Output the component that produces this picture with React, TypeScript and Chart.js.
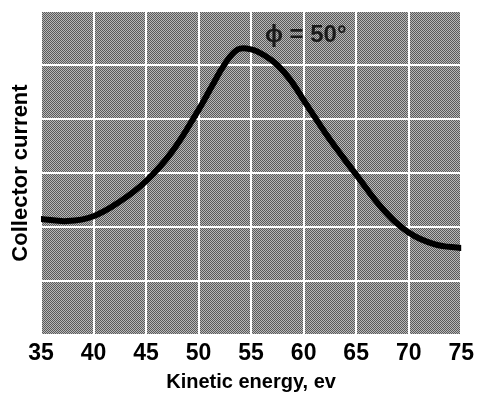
import React, { useEffect, useRef } from "react";
import { Chart, registerables } from "chart.js";

Chart.register(...registerables);

const energies = [35, 37.5, 40, 42.5, 45, 47.5, 50, 51.25, 52.5, 53.75, 55, 56.25, 57.5, 58.75, 60, 61.25, 62.5, 63.75, 65, 67.5, 70, 72.5, 75];
const current = [2.15, 2.11, 2.2, 2.47, 2.85, 3.4, 4.17, 4.6, 5.02, 5.29, 5.29, 5.18, 5.0, 4.72, 4.35, 3.98, 3.62, 3.29, 2.97, 2.34, 1.9, 1.68, 1.61];
const xTicks = [35, 40, 45, 50, 55, 60, 65, 70, 75];
const annotationText = "\u03D5 = 50\u00B0";
const annotationPos = { x: 60.2, y: 5.55 };

export default function App() {
  const ref = useRef<HTMLCanvasElement | null>(null);

  useEffect(() => {
    const canvas = ref.current;
    if (!canvas) return;

    const pc = document.createElement("canvas");
    pc.width = 2;
    pc.height = 2;
    const pctx = pc.getContext("2d")!;
    pctx.fillStyle = "#b8b8b8";
    pctx.fillRect(0, 0, 2, 2);
    pctx.fillStyle = "#5a5a5a";
    pctx.fillRect(0, 0, 1, 1);
    pctx.fillRect(1, 1, 1, 1);

    const bgPlugin = {
      id: "bg",
      beforeDraw(chart: any) {
        const { ctx, chartArea } = chart;
        const pat = ctx.createPattern(pc, "repeat");
        ctx.save();
        ctx.fillStyle = pat || "#888";
        ctx.fillRect(chartArea.left, chartArea.top, chartArea.right - chartArea.left, chartArea.bottom - chartArea.top);
        ctx.restore();
      },
    };

    const labelPlugin = {
      id: "phiLabel",
      afterDatasetsDraw(chart: any) {
        const { ctx, scales } = chart;
        const px = scales.x.getPixelForValue(annotationPos.x);
        const py = scales.y.getPixelForValue(annotationPos.y);
        ctx.save();
        ctx.font = "bold 24px 'Liberation Sans', Arial, sans-serif";
        ctx.fillStyle = "#1a1a1a";
        ctx.textAlign = "center";
        ctx.textBaseline = "middle";
        ctx.fillText(annotationText, px, py);
        ctx.restore();
      },
    };

    const chart = new Chart(canvas, {
      type: "line",
      data: {
        datasets: [
          {
            data: energies.map((e, i) => ({ x: e, y: current[i] })),
            borderColor: "#000",
            borderWidth: 6,
            pointRadius: 0,
            tension: 0.4,
            borderJoinStyle: "round",
            borderCapStyle: "round",
            fill: false,
          },
        ],
      },
      options: {
        animation: false,
        responsive: false,
        maintainAspectRatio: false,
        layout: { padding: { left: 0, top: 11, right: 9, bottom: 0 } },
        plugins: { legend: { display: false }, tooltip: { enabled: false } },
        scales: {
          x: {
            type: "linear",
            min: 35,
            max: 75,
            afterBuildTicks(scale: any) {
              scale.ticks = xTicks.map((v) => ({ value: v }));
            },
            afterFit(scale: any) {
              scale.height = 59;
            },
            grid: { color: "#ffffff", lineWidth: 2, drawTicks: false },
            border: { display: false },
            ticks: {
              padding: 5,
              color: "#000",
              font: { family: "'Liberation Sans', Arial, sans-serif", size: 23, weight: "bold" },
              maxRotation: 0,
              autoSkip: false,
            },
            title: {
              display: true,
              text: "Kinetic energy, ev",
              color: "#000",
              font: { family: "'Liberation Sans', Arial, sans-serif", size: 20, weight: "bold" },
              padding: { top: 0, bottom: 0 },
            },
          },
          y: {
            min: 0,
            max: 6,
            afterFit(scale: any) {
              scale.width = 41;
            },
            grid: { color: "#ffffff", lineWidth: 2, drawTicks: false },
            border: { display: false },
            ticks: { display: false, stepSize: 1 },
            title: {
              display: true,
              text: "Collector current",
              color: "#000",
              font: { family: "'Liberation Sans', Arial, sans-serif", size: 22, weight: "bold" },
              padding: { top: 8, bottom: 0 },
            },
          },
        },
      },
      plugins: [bgPlugin, labelPlugin],
    } as any);

    return () => chart.destroy();
  }, []);

  return (
    <div style={{ position: "absolute", left: 0, top: 0, width: 479, height: 394, background: "#fff" }}>
      <canvas ref={ref} width={479} height={394} style={{ display: "block" }} />
    </div>
  );
}
